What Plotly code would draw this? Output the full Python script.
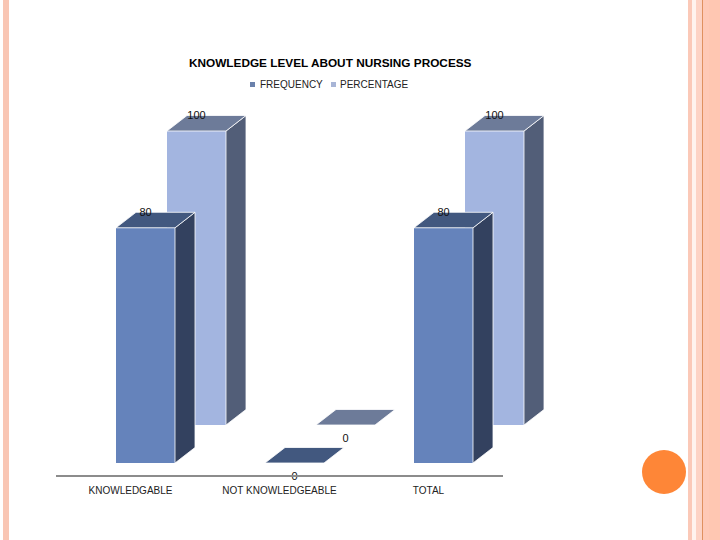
import plotly.graph_objects as go

categories = ['KNOWLEDGABLE', 'NOT KNOWLEDGEABLE', 'TOTAL']
frequency = [80, 0, 80]
percentage = [100, 0, 100]
title = 'KNOWLEDGE LEVEL ABOUT NURSING PROCESS'

W, H = 720, 540
# plot area in page pixels, the category line sits at pixel row 476
LEFT, RIGHT, AXIS_ROW, BOTTOM = 56, 600, 476, 483
PX_X = 149.0          # pixels per category
PX_Y = 2.94           # pixels per value unit
BAR_W = 59 / PX_X
DEPTH_X = 20 / PX_X
DEPTH_Y = 15.5 / PX_Y
LABEL_GAP = 14.5 / PX_Y

FONT = 'Liberation Sans'


def px(x):
    return x / W


def py(y):
    return 1 - y / H


def faces(values, shift_x, base):
    # top and side faces of the fake 3d boxes, as closed polygons
    top_x, top_y, side_x, side_y = [], [], [], []
    for i, v in enumerate(values):
        x0 = i + shift_x - BAR_W / 2
        x1 = i + shift_x + BAR_W / 2
        y0 = base
        y1 = base + v
        top_x += [x0, x1, x1 + DEPTH_X, x0 + DEPTH_X, x0, None]
        top_y += [y1, y1, y1 + DEPTH_Y, y1 + DEPTH_Y, y1, None]
        if v:
            side_x += [x1, x1 + DEPTH_X, x1 + DEPTH_X, x1, x1, None]
            side_y += [y0, y0 + DEPTH_Y, y1 + DEPTH_Y, y1, y0, None]
    return top_x, top_y, side_x, side_y


def add_series(fig, name, values, shift_x, base, front, top, side):
    xs = [i + shift_x for i in range(len(values))]
    fig.add_trace(go.Bar(
        x=xs, y=values, base=base, width=BAR_W, name=name,
        marker=dict(color=front, line=dict(width=0)),
        showlegend=False
    ))
    top_x, top_y, side_x, side_y = faces(values, shift_x, base)
    fig.add_trace(go.Scatter(
        x=side_x, y=side_y, mode='lines', fill='toself', fillcolor=side,
        line=dict(color='white', width=0.8), showlegend=False, hoverinfo='skip'
    ))
    fig.add_trace(go.Scatter(
        x=top_x, y=top_y, mode='lines', fill='toself', fillcolor=top,
        line=dict(color='white', width=0.8), showlegend=False, hoverinfo='skip'
    ))
    # labels float over the back edge, zero values hang below the box
    label_y = [base + v + LABEL_GAP if v else base - LABEL_GAP for v in values]
    fig.add_trace(go.Scatter(
        x=xs, y=label_y, mode='text', text=[str(v) for v in values],
        textposition='middle center', cliponaxis=False,
        textfont=dict(family=FONT, size=11, color='#111111'),
        showlegend=False, hoverinfo='skip'
    ))


fig = go.Figure()
add_series(fig, 'PERCENTAGE', percentage, 66 / PX_X, 51 / PX_Y, '#A3B5E0', '#6D7B99', '#525E78')
add_series(fig, 'FREQUENCY', frequency, 15 / PX_X, 13 / PX_Y, '#6583BB', '#42587F', '#33415F')

strips = [
    (3, 9, '#F9C6B4'),
    (688, 692, '#FBC9B8'),
    (692, 696, '#FFF3EE'),
    (696, 702, '#FDD3C5'),
    (702, 703, '#E0915F'),
    (703, 709, '#FFC9B6'),
    (709, 720, '#FFC7B2'),
]
shapes = [
    dict(type='rect', xref='paper', yref='paper', x0=px(a), x1=px(b), y0=0, y1=1,
         fillcolor=c, line_width=0, layer='below')
    for a, b, c in strips
]
shapes.append(dict(type='circle', xref='paper', yref='paper',
                   x0=px(642), x1=px(686), y0=py(494), y1=py(450),
                   fillcolor='#FE8637', line_width=0, layer='below'))
# legend swatches
for x0, color in [(250, '#6A81AB'), (331, '#A8B5D6')]:
    shapes.append(dict(type='rect', xref='paper', yref='paper',
                       x0=px(x0), x1=px(x0 + 5), y0=py(87), y1=py(82),
                       fillcolor=color, line_width=0))
# category line stops at the last category edge
shapes.append(dict(type='line', xref='x', yref='y', x0=-0.5, x1=2.5, y0=0, y1=0,
                   line=dict(color='#8C8C8C', width=2)))

annotations = [
    dict(text='<b>' + title + '</b>', x=px(330), y=py(63), xref='paper', yref='paper', showarrow=False,
         font=dict(family=FONT, size=11.8, color='#000000'), xanchor='center', yanchor='middle'),
    dict(text='FREQUENCY', x=px(258), y=py(84), xref='paper', yref='paper', showarrow=False,
         font=dict(family=FONT, size=10, color='#222222'), xanchor='left', yanchor='middle'),
    dict(text='PERCENTAGE', x=px(338), y=py(84), xref='paper', yref='paper', showarrow=False,
         font=dict(family=FONT, size=10, color='#222222'), xanchor='left', yanchor='middle'),
]

fig.update_layout(
    width=W, height=H,
    margin=dict(l=0, r=0, t=0, b=0),
    paper_bgcolor='white', plot_bgcolor='rgba(0,0,0,0)',
    barmode='overlay',
    bargap=0,
    showlegend=False,
    shapes=shapes,
    annotations=annotations,
    xaxis=dict(
        domain=[px(LEFT), px(RIGHT)],
        range=[-0.5, -0.5 + (RIGHT - LEFT) / PX_X],
        tickvals=list(range(len(categories))),
        ticktext=categories,
        tickfont=dict(family=FONT, size=10, color='#222222'),
        showgrid=False, zeroline=False, showline=False,
        ticks='',
    ),
    yaxis=dict(
        domain=[py(BOTTOM), 1],
        range=[(AXIS_ROW - BOTTOM) / PX_Y, AXIS_ROW / PX_Y],
        visible=False,
    ),
)

# the browser's default body margin would push the page 8px off
fig.write_html('out.html', config=dict(displayModeBar=False),
               post_script="document.body.style.margin='0';")
